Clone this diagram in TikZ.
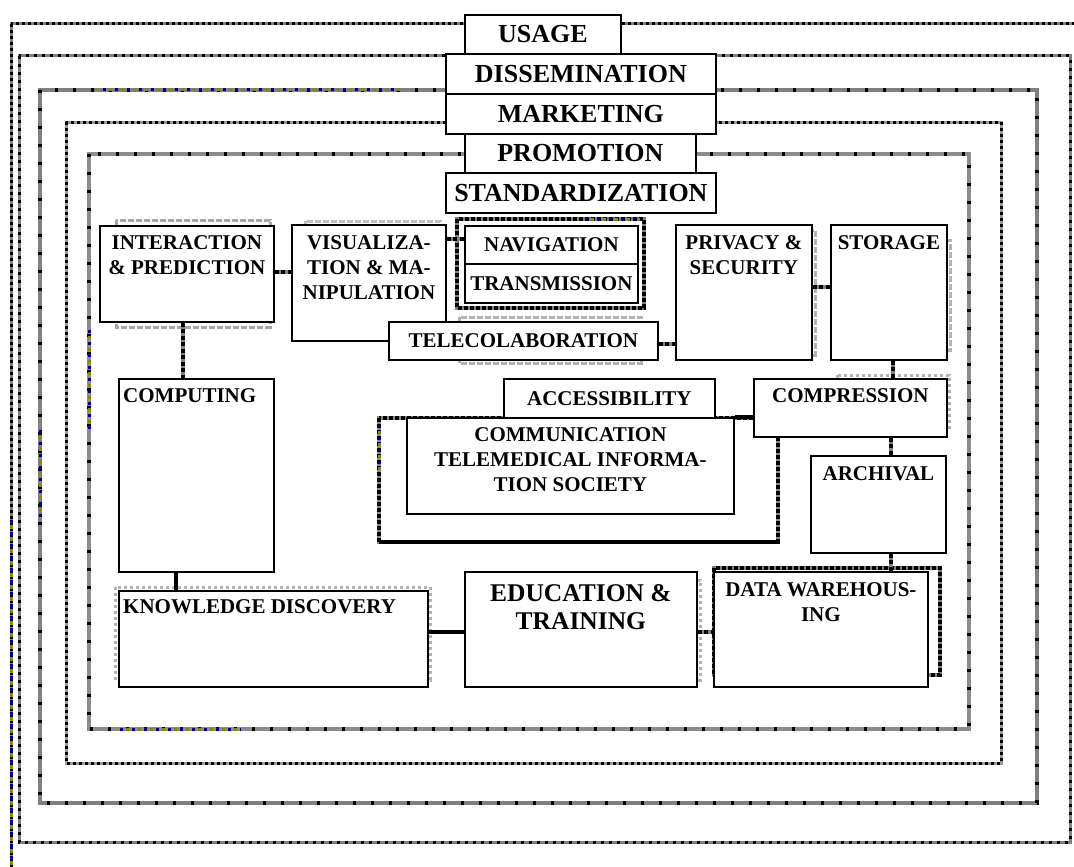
\documentclass[tikz,border=0pt]{standalone}
\usepackage{fontspec}
\setmainfont{Liberation Serif}[UprightFont={* Bold}, BoldFont={* Bold}]
\newcommand\bodyfont{\fontsize{21}{25}\selectfont}
\newcommand\headfont{\fontsize{26}{30}\selectfont}
\newcommand\largefont{\fontsize{25.5}{28}\selectfont}
\begin{document}
\begin{tikzpicture}[x=1pt,y=-1pt,
  box/.style={draw=black, line width=1.8pt, fill=white, rectangle, inner sep=0pt, anchor=north west, font=\bodyfont},
  head/.style={box, font=\headfont},
  lbl/.style={inner sep=0pt, align=center, anchor=north, font=\bodyfont},
  % nested frames: grey band with black dots on top
  frame/.style={draw=black!50, line width=3pt,
    postaction={draw=black, line width=3pt, dash pattern=on 3pt off #1}},
  frame/.default=3pt,
  greyframe/.style={draw=black!50, line width=3.2pt,
    postaction={draw=black, line width=3.2pt, dash pattern=on 3pt off 15pt}},
  tint/.style={draw=blue!55!black, line width=3pt, dash pattern=on 3pt off 9pt,
    postaction={draw=olive, line width=3pt, dash pattern=on 3pt off 9pt, dash phase=6pt}},
  shade/.style={draw=black!35, line width=3pt, dash pattern=on 6pt off 2pt},
  darkframe/.style={draw=black!50, line width=3.4pt,
    postaction={draw=black, line width=3.4pt, dash pattern=on 4pt off 2pt}},
  conn/.style={draw=black!50, line width=4pt,
    postaction={draw=black, line width=4pt, dash pattern=on 4pt off 2.5pt}},
  solidconn/.style={draw=black, line width=3.6pt},
]
\useasboundingbox (0,0) rectangle (1074,867);
\clip (0,0) rectangle (1074,867);

% ---- nested frames ----
\draw[frame] (11,24) rectangle (1110,900);
\draw[frame=5pt] (19,56) rectangle (1070,842);
\draw[greyframe] (40,90) rectangle (1037,803);
\draw[frame=3pt, draw=black!40] (66,122) rectangle (1001,763);
\draw[greyframe, draw=black!45] (89,154) rectangle (969,729);

% coloured flecks on the frame lines
\draw[tint] (11,520) -- (11,867);
\draw[tint] (103,90) -- (400,90);
\draw[tint] (40,430) -- (40,520);
\draw[tint] (120,729) -- (241,729);
\draw[tint] (89,330) -- (89,430);

% ---- shadow frames around boxes ----
\draw[shade] (116,220) rectangle (270,327);
\draw[shade, draw=black!25] (305,221) rectangle (440,330);
\draw[shade, draw=black!30] (459,317) rectangle (641,363);
\draw[shade, draw=black!30] (690,230) rectangle (815,355);
\draw[shade, draw=black!30] (840,240) rectangle (950,350);
\draw[shade, draw=black!30, dash pattern=on 3pt off 3pt] (837,375) rectangle (949,430);
\draw[shade, draw=black!30, dash pattern=on 3pt off 3pt] (115,587) rectangle (430,680);
\draw[shade, draw=black!30, dash pattern=on 3pt off 3pt] (480,580) rectangle (700,680);
\draw[darkframe] (457,219) rectangle (644,308);
\draw[darkframe, draw=black!45] (379,418) rectangle (778,542);
\draw[solidconn] (379,542) -- (778,542);
\draw[tint] (379,425) -- (379,470);
\draw[darkframe] (714,568) rectangle (940,675);
\draw[tint] (585,219) -- (640,219);

% ---- boxes ----
\node[head, minimum width=156pt, minimum height=39pt] (usage) at (464,14) {USAGE};
\node[head, minimum width=270pt, minimum height=40pt] (dissem) at (445,53) {DISSEMINATION};
\node[head, minimum width=270pt, minimum height=40pt] (market) at (445,93) {MARKETING};
\node[head, minimum width=231pt, minimum height=39pt] (promo) at (464,133) {PROMOTION};
\node[head, minimum width=270pt, minimum height=40pt] (stand) at (445,172) {STANDARDIZATION};

% box frames used as connector end points
\node[box, minimum width=174pt, minimum height=96pt, draw=none, fill=none] (inter) at (99,225) {};
\node[box, minimum width=154pt, minimum height=116pt, draw=none, fill=none] (vis) at (291,224) {};
\node[box, minimum width=173pt, minimum height=38pt, draw=none, fill=none] (nav) at (464,225) {};
\node[box, minimum width=269pt, minimum height=38pt, draw=none, fill=none] (tele) at (388,321) {};
\node[box, minimum width=136pt, minimum height=135pt, draw=none, fill=none] (priv) at (675,224) {};
\node[box, minimum width=116pt, minimum height=135pt, draw=none, fill=none] (stor) at (830,224) {};
\node[box, minimum width=155pt, minimum height=193pt, draw=none, fill=none] (comp) at (118,378) {};
\node[box, minimum width=193pt, minimum height=58pt, draw=none, fill=none] (compr) at (753,378) {};
\node[box, minimum width=327pt, minimum height=96pt, draw=none, fill=none] (comm) at (406,417) {};
\node[box, minimum width=135pt, minimum height=97pt, draw=none, fill=none] (arch) at (810,455) {};
\node[box, minimum width=309pt, minimum height=96pt, draw=none, fill=none] (kd) at (118,590) {};
\node[box, minimum width=232pt, minimum height=115pt, draw=none, fill=none] (edu) at (464,571) {};
\node[box, minimum width=214pt, minimum height=115pt, draw=none, fill=none] (dw) at (713,571) {};

% connectors (drawn before the boxes so the boxes trim them)
\draw[conn] ([yshift=2pt]inter.east) -- ([yshift=2pt]inter.east -| vis.west);
\draw[conn] ([yshift=6pt]nav.west -| vis.east) -- ([yshift=6pt]nav.west);
\draw[conn] ([xshift=-4pt]inter.south) -- ([xshift=-4pt]inter.south |- comp.north);
\draw[solidconn] ([xshift=-20.5pt]comp.south) -- ([xshift=-20.5pt]comp.south |- kd.north);
\draw[solidconn] ([yshift=-2.5pt]edu.west -| kd.east) -- ([yshift=-2.5pt]edu.west);
\draw[conn] ([yshift=-2.5pt]edu.east) -- ([yshift=-2.5pt]edu.east -| dw.west);
\draw[conn] ([yshift=-3pt]tele.east) -- ([yshift=-3pt]tele.east -| priv.west);
\draw[conn] ([yshift=5.5pt]priv.east) -- ([yshift=5.5pt]priv.east -| stor.west);
\draw[conn] ([xshift=4pt]stor.south) -- ([xshift=4pt]stor.south |- compr.north);
\draw[conn] ([xshift=12.5pt]arch.north |- compr.south) -- ([xshift=12.5pt]arch.north);
\draw[conn] ([xshift=12.5pt]arch.south) -- ([xshift=12.5pt]arch.south |- dw.north);
\draw[solidconn] (comm.north east) -- (comm.north east -| compr.west);

% box outlines
\node[box, minimum width=174pt, minimum height=96pt] (interbox) at (99,225) {};
\node[box, minimum width=154pt, minimum height=116pt] (visbox) at (291,224) {};
\node[box, minimum width=173pt, minimum height=38pt] (navbox) at (464,225) {NAVIGATION};
\node[box, minimum width=173pt, minimum height=39pt] (trans) at (464,263) {TRANSMISSION};
\node[box, minimum width=269pt, minimum height=38pt] (telebox) at (388,321) {TELECOLABORATION};
\node[box, minimum width=136pt, minimum height=135pt] (privbox) at (675,224) {};
\node[box, minimum width=116pt, minimum height=135pt] (storbox) at (830,224) {};
\node[box, minimum width=155pt, minimum height=193pt] (compbox) at (118,378) {};
\node[box, minimum width=211pt, minimum height=39pt] (access) at (503,378) {ACCESSIBILITY};
\node[box, minimum width=193pt, minimum height=58pt] (comprbox) at (753,378) {};
\node[box, minimum width=327pt, minimum height=96pt] (commbox) at (406,417) {};
\node[box, minimum width=135pt, minimum height=97pt] (archbox) at (810,455) {};
\node[box, minimum width=309pt, minimum height=96pt] (kdbox) at (118,590) {};
\node[box, minimum width=232pt, minimum height=115pt] (edubox) at (464,571) {};
\node[box, minimum width=214pt, minimum height=115pt] (dwbox) at (713,571) {};

% texts set at the top of their boxes
\node[lbl] (inter-t) at ([yshift=-10pt]inter.north) {INTERACTION\\\& PREDICTION};
\node[lbl] (vis-t) at ([yshift=-11pt]vis.north) {VISUALIZA-\\TION \& MA-\\NIPULATION};
\node[lbl] (priv-t) at ([yshift=-11pt]priv.north) {PRIVACY \&\\SECURITY};
\node[lbl] (stor-t) at ([yshift=-11pt]stor.north) {STORAGE};
\node[lbl, anchor=north west] (comp-t) at ([xshift=5pt,yshift=-10pt]comp.north west) {COMPUTING};
\node[lbl] (compr-t) at ([yshift=-10pt]compr.north) {COMPRESSION};
\node[lbl] (comm-t) at ([yshift=-10pt]comm.north) {COMMUNICATION\\TELEMEDICAL INFORMA-\\TION SOCIETY};
\node[lbl] (arch-t) at ([yshift=-11pt]arch.north) {ARCHIVAL};
\node[lbl, anchor=north west] (kd-t) at ([xshift=5pt,yshift=-9pt]kd.north west) {KNOWLEDGE DISCOVERY};
\node[lbl, font=\largefont] (edu-t) at ([yshift=-13pt]edu.north) {EDUCATION \&\\TRAINING};
\node[lbl] (dw-t) at ([yshift=-11pt]dw.north) {DATA WAREHOUS-\\ING};
\end{tikzpicture}
\end{document}
